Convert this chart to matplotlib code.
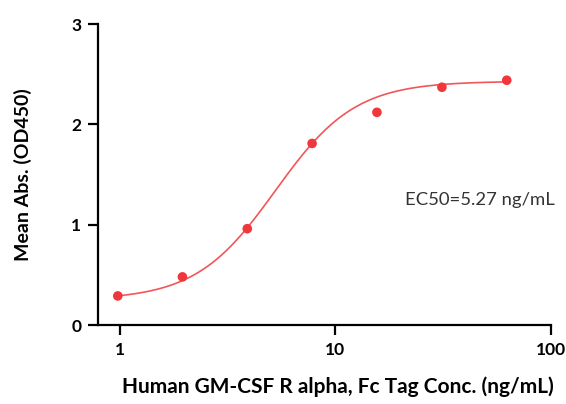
import numpy as np
import matplotlib
matplotlib.use("Agg")
import matplotlib.pyplot as plt

# ================= Data ================= #
conc = [0.977, 1.95, 3.9, 7.8, 15.6, 31.25, 62.5]   # ng/mL
od450 = [0.29, 0.48, 0.96, 1.81, 2.12, 2.37, 2.44]

# 4PL fit parameters
fitBottom = 0.25
fitTop = 2.43
fitEC50 = 5.27
fitHill = 2.35

xTicks = [1, 10, 100]
xTickLabels = ["1", "10", "100"]
yTicks = [0, 1, 2, 3]

red = "#f0383c"

# ================= Plot ================= #
plt.rcParams['font.family'] = ['Lato', 'DejaVu Sans']
fig = plt.figure(figsize=(5.66, 4.04), dpi=100)
ax = fig.add_axes([0.173, 0.1955, 0.80, 0.745])

# fitted curve
xFit = np.logspace(np.log10(conc[0]), np.log10(conc[-1]), 200)
yFit = fitBottom + (fitTop - fitBottom) / (1 + (fitEC50 / xFit) ** fitHill)
ax.plot(xFit, yFit, color=red, lw=1.2, alpha=0.85, zorder=2)
ax.scatter(conc, od450, s=48, color=red, zorder=3, edgecolors='none')

ax.set_xscale('log')
ax.set_xlim(0.79, 100)
ax.set_ylim(0, 3)
ax.set_xticks(xTicks)
ax.set_xticklabels(xTickLabels)
ax.xaxis.set_minor_locator(matplotlib.ticker.NullLocator())
ax.set_yticks(yTicks)

for side in ['top', 'right']:
    ax.spines[side].set_visible(False)
for side in ['left', 'bottom']:
    ax.spines[side].set_linewidth(1.6)
ax.tick_params(width=1.6, length=7, labelsize=12.5, pad=5)
for lab in ax.get_xticklabels() + ax.get_yticklabels():
    lab.set_fontweight('bold')

ax.set_xlabel("Human GM-CSF R alpha, Fc Tag Conc. (ng/mL)", fontsize=15,
              fontweight='bold')
ax.xaxis.set_label_coords(0.53, -0.17)
ax.set_ylabel("Mean Abs. (OD450)", fontsize=14, fontweight='bold', labelpad=28)

ax.text(47, 1.25, "EC50=5.27 ng/mL", fontsize=13.3, ha='center', va='center',
        color='#333333')

fig.savefig("out.png", dpi=100)
